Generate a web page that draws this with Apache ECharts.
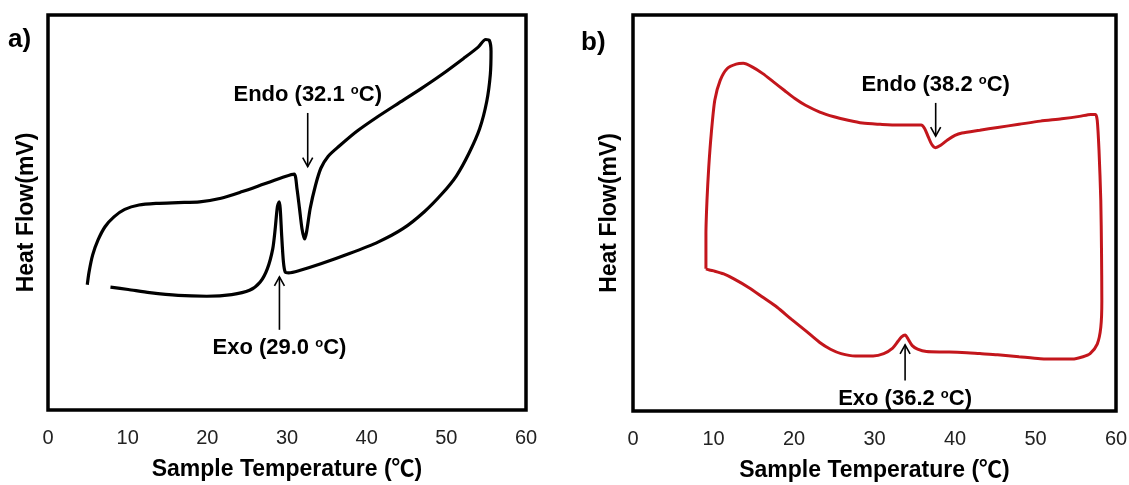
<!DOCTYPE html>
<html>
<head>
<meta charset="utf-8">
<script src="https://cdn.jsdelivr.net/npm/echarts@6/dist/echarts.min.js"></script>
<style>
  html, body { margin: 0; padding: 0; background: #fff; }
  #chart { width: 1129px; height: 485px; }
</style>
</head>
<body>
<div id="chart"></div>
<script>
// Temperature axis ticks shared by both panels (°C)
const tempTicks = [0, 10, 20, 30, 40, 50, 60];

// Panel a): DSC loop, sample temperature (°C) vs heat flow (relative units)
const tempA = [4.93, 5.15, 5.60, 6.27, 7.16, 8.28, 9.63, 11.42, 13.66, 16.34, 19.03, 21.72, 24.40, 27.09,
  29.78, 30.90, 31.25, 31.57, 31.88, 32.20, 32.46, 32.91, 33.58, 34.25, 35.15, 36.49, 38.73, 41.42,
  44.10, 46.79, 49.48, 52.16, 53.96, 54.94, 55.39, 55.61, 55.52, 55.07, 54.18, 52.84, 51.27, 49.48,
  47.24, 44.55, 41.42, 37.84, 34.25, 31.57, 30.22, 29.78, 29.55, 29.33, 29.15, 29.02, 28.79, 28.52,
  28.21, 27.54, 26.64, 25.30, 23.06, 19.93, 16.34, 12.76, 10.07, 7.84];
const flowA = [31.7, 34.9, 39.2, 43.0, 46.4, 48.9, 50.8, 51.9, 52.3, 52.5, 52.7, 53.6, 55.3, 57.2,
  59.1, 59.7, 56.1, 51.0, 45.9, 43.3, 45.1, 51.0, 56.9, 61.2, 64.2, 66.7, 70.5, 74.3,
  77.8, 81.3, 85.0, 89.0, 91.8, 93.8, 93.6, 90.8, 84.9, 78.1, 71.2, 65.0, 59.3, 54.8,
  50.2, 45.9, 42.5, 39.6, 37.0, 35.3, 34.7, 34.9, 37.5, 44.2, 51.0, 52.7, 51.4, 45.9,
  40.8, 35.8, 32.4, 30.3, 29.2, 28.8, 29.0, 29.7, 30.5, 31.1];

// Panel b): DSC loop, sample temperature (°C) vs heat flow (relative units)
const tempB = [9.06, 9.06, 9.19, 9.41, 9.72, 10.16, 10.83, 11.71, 12.81, 13.70, 14.80, 16.13, 17.45, 18.78,
  20.11, 21.43, 23.20, 24.97, 26.73, 28.50, 30.71, 32.92, 34.69, 35.79, 36.24, 36.68, 37.12, 37.56,
  38.22, 39.11, 39.99, 40.87, 43.08, 45.29, 47.95, 50.60, 53.25, 55.46, 56.87, 57.45, 57.67, 57.89,
  58.11, 58.20, 58.24, 58.11, 57.67, 56.78, 55.90, 54.57, 52.81, 50.60, 47.95, 45.29, 43.08, 40.87,
  38.67, 36.46, 35.35, 34.69, 34.25, 33.80, 33.36, 32.92, 32.26, 31.15, 29.83, 27.62, 25.85, 24.53,
  23.20, 21.43, 19.66, 17.90, 16.13, 14.36, 12.59, 11.27, 10.16, 9.50, 9.06];
const flowB = [35.9, 44.7, 53.2, 61.6, 70.0, 78.5, 83.5, 86.5, 87.6, 87.8, 86.9, 85.2, 83.1, 81.0,
  78.9, 77.2, 75.5, 74.3, 73.4, 72.7, 72.4, 72.2, 72.2, 72.2, 71.3, 69.2, 67.3, 66.5,
  67.1, 68.5, 69.6, 70.2, 70.9, 71.6, 72.4, 73.2, 73.8, 74.4, 74.9, 74.9, 73.4, 65.8,
  53.2, 40.5, 27.8, 21.1, 16.9, 14.5, 13.7, 13.1, 13.1, 13.2, 13.7, 14.2, 14.5, 14.8,
  14.9, 15.0, 15.6, 16.5, 17.9, 19.2, 18.7, 17.6, 15.9, 14.5, 13.9, 13.9, 14.5, 15.6,
  17.3, 20.3, 23.2, 26.2, 28.7, 31.2, 33.3, 34.6, 35.3, 35.6, 35.9];

// Peak annotations: arrow temperature, arrow tip and tail (heat-flow units), peak kind and value
const arrowTempA = [32.6, 29.05];
const arrowTipA = [61.6, 33.7];
const arrowTailA = [75.2, 20.3];
const peakKindA = ['Endo', 'Exo'];
const peakValueA = ['32.1', '29.0'];

const arrowTempB = [37.6, 33.8];
const arrowTipB = [69.4, 16.7];
const arrowTailB = [77.8, 7.7];
const peakKindB = ['Endo', 'Exo'];
const peakValueB = ['38.2', '36.2'];

const FONT = '"Liberation Sans", Arial, "Noto Sans CJK SC", sans-serif';

const zip = (xs, ys) => xs.map((x, i) => [x, ys[i]]);
const zip3 = (a, b, c) => a.map((v, i) => [v, b[i], c[i]]);

function arrowRenderer(kinds, values) {
  return function (params, api) {
    const t = api.value(0);
    const tip = api.coord([t, api.value(1)]);
    const tail = api.coord([t, api.value(2)]);
    const dir = tip[1] > tail[1] ? 1 : -1;   // 1: pointing down
    const headLen = 9, headHalf = 5;
    const i = params.dataIndex;
    return {
      type: 'group',
      children: [
        {
          type: 'line',
          shape: { x1: tail[0], y1: tail[1], x2: tip[0], y2: tip[1] },
          style: { stroke: '#000', lineWidth: 1.6 }
        },
        {
          type: 'polyline',
          shape: { points: [[tip[0] - headHalf, tip[1] - dir * headLen], [tip[0], tip[1]], [tip[0] + headHalf, tip[1] - dir * headLen]] },
          style: { stroke: '#000', lineWidth: 1.6, fill: 'none' }
        },
        {
          type: 'text',
          x: tip[0],
          y: tail[1] - dir * 18,
          style: {
            text: '{b|' + kinds[i] + ' (' + values[i] + ' }{s|o}{b|C)}',
            align: 'center',
            verticalAlign: 'middle',
            rich: {
              b: { fontSize: 22, fontWeight: 'bold', fontFamily: FONT, fill: '#000' },
              s: { fontSize: 13, fontWeight: 'bold', fontFamily: FONT, fill: '#000', verticalAlign: 'top' }
            }
          }
        }
      ]
    };
  };
}

function xAxisFor(gridIndex) {
  return {
    gridIndex,
    type: 'value',
    min: tempTicks[0],
    max: tempTicks[tempTicks.length - 1],
    interval: tempTicks[1] - tempTicks[0],
    name: 'Sample Temperature (℃)',
    nameLocation: 'middle',
    nameGap: 48,
    nameTextStyle: { fontSize: 23, fontWeight: 'bold', color: '#000', fontFamily: FONT },
    axisLine: { show: false },
    axisTick: { show: false },
    splitLine: { show: false },
    axisLabel: { fontSize: 20, color: '#222', margin: 18, fontFamily: FONT }
  };
}

function yAxisFor(gridIndex, gap) {
  return {
    gridIndex,
    type: 'value',
    min: 0,
    max: 100,
    name: 'Heat Flow(mV)',
    nameLocation: 'middle',
    nameRotate: 90,
    nameGap: gap,
    nameTextStyle: { fontSize: 23, fontWeight: 'bold', color: '#000', fontFamily: FONT },
    axisLine: { show: false },
    axisTick: { show: false },
    axisLabel: { show: false },
    splitLine: { show: false }
  };
}

const chart = echarts.init(document.getElementById('chart'), null, { renderer: 'canvas' });

chart.setOption({
  animation: false,
  backgroundColor: '#fff',
  grid: [
    { left: 48, top: 15, width: 478, height: 395, show: true, borderColor: '#000', borderWidth: 3.5, backgroundColor: '#fff', outerBoundsMode: 'none' },
    { left: 633, top: 15, width: 483, height: 396, show: true, borderColor: '#000', borderWidth: 3.5, backgroundColor: '#fff', outerBoundsMode: 'none' }
  ],
  xAxis: [xAxisFor(0), xAxisFor(1)],
  yAxis: [yAxisFor(0, 10), yAxisFor(1, 12)],
  graphic: [
    { type: 'text', left: 8, top: 27, style: { text: 'a)', font: 'bold 26px ' + FONT, fill: '#000' } },
    { type: 'text', left: 581, top: 30, style: { text: 'b)', font: 'bold 26px ' + FONT, fill: '#000' } }
  ],
  series: [
    {
      type: 'line', xAxisIndex: 0, yAxisIndex: 0,
      data: zip(tempA, flowA),
      showSymbol: false, smooth: 0.25,
      lineStyle: { color: '#000', width: 3.2 }
    },
    {
      type: 'line', xAxisIndex: 1, yAxisIndex: 1,
      data: zip(tempB, flowB),
      showSymbol: false, smooth: 0.25,
      lineStyle: { color: '#c3161c', width: 3 }
    },
    {
      type: 'custom', xAxisIndex: 0, yAxisIndex: 0, clip: false, z: 5,
      data: zip3(arrowTempA, arrowTipA, arrowTailA),
      renderItem: arrowRenderer(peakKindA, peakValueA)
    },
    {
      type: 'custom', xAxisIndex: 1, yAxisIndex: 1, clip: false, z: 5,
      data: zip3(arrowTempB, arrowTipB, arrowTailB),
      renderItem: arrowRenderer(peakKindB, peakValueB)
    }
  ]
});
</script>
</body>
</html>
